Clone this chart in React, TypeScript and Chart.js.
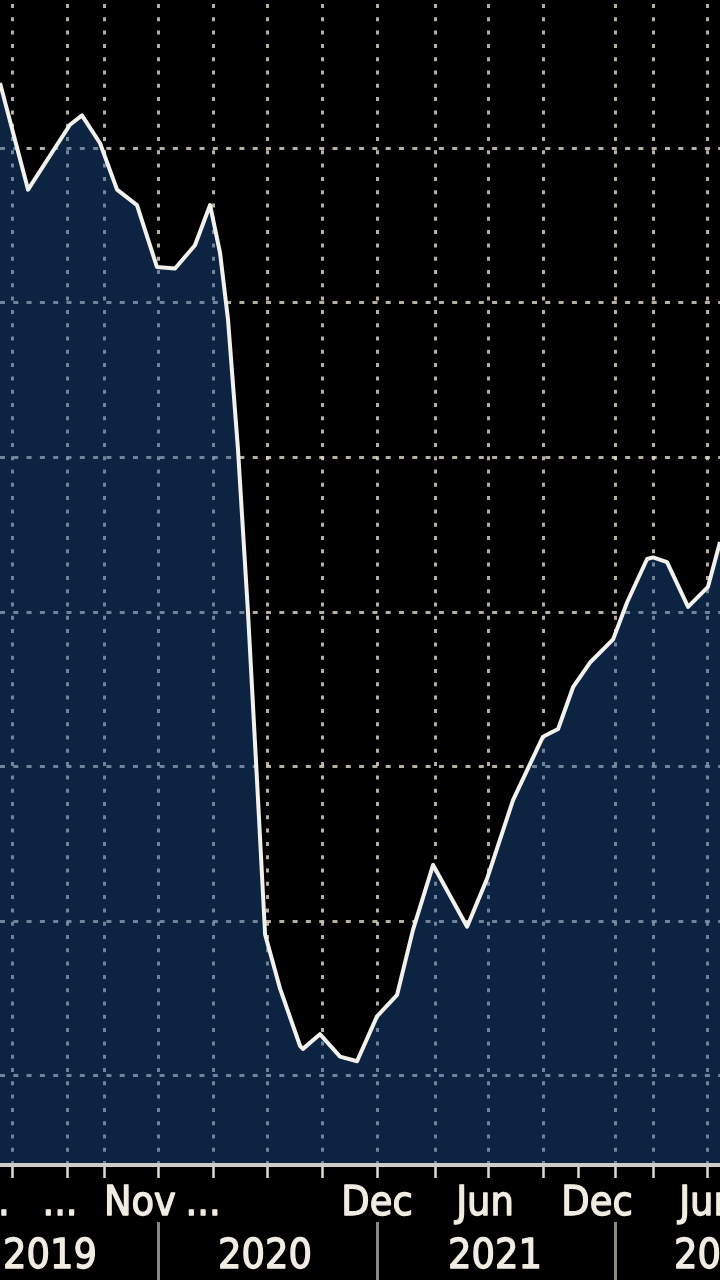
import React, { useEffect, useRef } from "react";
import { Chart, registerables } from "chart.js";

Chart.register(...registerables);

// Series (x in months from the left edge of the view, y in index points)
const seriesX = [0, 1.52, 3.79, 4.44, 5.42, 6.34, 7.42, 8.5, 9.48, 10.56, 11.38, 11.92, 12.35, 12.89, 13.43, 13.92, 14.36, 15.17, 16.25, 16.41, 17.33, 18.42, 19.34, 20.42, 21.51, 22.37, 23.46, 25.3, 26.38, 27.79, 29.41, 30.23, 31.04, 31.96, 33.21, 33.97, 35.05, 35.37, 36.13, 37.27, 38.35, 39.0, 39.5];
const seriesY = [84.2, 77.3, 81.5, 82.1, 80.3, 77.3, 76.3, 72.3, 72.2, 73.7, 76.3, 73.2, 68.9, 60.5, 50.0, 39.1, 29.1, 25.6, 21.9, 21.7, 22.65, 21.2, 20.9, 23.8, 25.2, 29.4, 33.6, 29.6, 32.7, 37.8, 41.9, 42.4, 45.1, 46.7, 48.2, 50.6, 53.4, 53.5, 53.2, 50.3, 51.6, 54.5, 57.2];

// Axis furniture
const gridX = [0.65, 3.63, 5.63, 8.56, 11.54, 14.46, 17.44, 20.42, 23.56, 26.43, 29.41, 33.31, 35.37, 38.3];
const tickOnlyX = [31.31];
const gridY = [20, 30, 40, 50, 60, 70, 80];
const monthLabels = ["...", "...", "Nov", "...", "Dec", "Jun", "Dec", "Jun"];
const monthLabelX = [-0.43, 3.25, 7.58, 11.0, 20.42, 26.27, 32.34, 38.35];
const yearLabels = ["2019", "2020", "2021", "2022"];
const yearLabelX = [2.71, 14.35, 26.81, 39.05];
const yearSeparatorX = [8.56, 20.42, 33.31];

const X_MIN = 0;
const X_MAX = 39;
const Y_MIN = 14.25;
const Y_MAX = 89.57;

const FONT = '41px "DejaVu Sans Condensed", "DejaVu Sans", sans-serif';

const bbgPlugin = {
  id: "bbgFurniture",
  beforeDatasetsDraw(chart: any) {
    const { ctx, chartArea: a, scales } = chart;
    const x = scales.x;
    const y = scales.y;
    ctx.save();
    ctx.strokeStyle = "rgba(220,214,198,0.82)";
    ctx.lineWidth = 3;
    ctx.lineCap = "butt";
    ctx.setLineDash([4, 9.3]);
    gridX.forEach((v) => {
      const px = Math.round(x.getPixelForValue(v)) + 0.5;
      ctx.beginPath();
      ctx.moveTo(px, a.top + 4);
      ctx.lineTo(px, a.bottom);
      ctx.stroke();
    });
    ctx.setLineDash([5, 8.3]);
    gridY.forEach((v) => {
      const py = Math.round(y.getPixelForValue(v)) + 0.5;
      ctx.beginPath();
      ctx.moveTo(a.left, py);
      ctx.lineTo(a.right, py);
      ctx.stroke();
    });
    ctx.restore();
  },
  afterDraw(chart: any) {
    const { ctx, chartArea: a, scales } = chart;
    const x = scales.x;
    const axisY = a.bottom + 1;
    ctx.save();
    // axis line
    ctx.strokeStyle = "#cfcdc8";
    ctx.lineWidth = 4;
    ctx.beginPath();
    ctx.moveTo(a.left, axisY);
    ctx.lineTo(a.right, axisY);
    ctx.stroke();
    // tick marks
    ctx.strokeStyle = "#dedbd3";
    ctx.lineWidth = 2.5;
    [...gridX, ...tickOnlyX].forEach((v) => {
      const px = Math.round(x.getPixelForValue(v)) + 0.5;
      ctx.beginPath();
      ctx.moveTo(px, axisY + 2);
      ctx.lineTo(px, axisY + 13);
      ctx.stroke();
    });
    // year separators
    ctx.strokeStyle = "#8c8780";
    ctx.lineWidth = 3;
    yearSeparatorX.forEach((v) => {
      const px = Math.round(x.getPixelForValue(v)) + 0.5;
      ctx.beginPath();
      ctx.moveTo(px, axisY + 57);
      ctx.lineTo(px, chart.height);
      ctx.stroke();
    });
    // labels
    ctx.fillStyle = "#f1ece2";
    ctx.strokeStyle = "#f1ece2";
    ctx.lineWidth = 1.3;
    ctx.lineJoin = "round";
    ctx.font = FONT;
    ctx.textAlign = "center";
    ctx.textBaseline = "alphabetic";
    monthLabels.forEach((t, i) => {
      const px = x.getPixelForValue(monthLabelX[i]);
      ctx.fillText(t, px, axisY + 50);
      ctx.strokeText(t, px, axisY + 50);
    });
    yearLabels.forEach((t, i) => {
      const px = x.getPixelForValue(yearLabelX[i]);
      ctx.fillText(t, px, axisY + 103);
      ctx.strokeText(t, px, axisY + 103);
    });
    ctx.restore();
  },
};

export default function App() {
  const ref = useRef<HTMLCanvasElement | null>(null);
  useEffect(() => {
    if (!ref.current) return;
    const points = seriesX.map((v, i) => ({ x: v, y: seriesY[i] }));
    const chart = new Chart(ref.current, {
      type: "line",
      data: {
        datasets: [
          {
            data: points,
            borderColor: "#f3f1ec",
            borderWidth: 4,
            backgroundColor: "rgba(27,78,145,0.45)",
            fill: "start",
            tension: 0,
            pointRadius: 0,
            borderJoinStyle: "round",
          } as any,
        ],
      },
      options: {
        animation: false,
        responsive: true,
        maintainAspectRatio: false,
        layout: { padding: { left: 0, right: 0, top: 0, bottom: 116 } },
        scales: {
          x: { type: "linear", display: false, min: X_MIN, max: X_MAX },
          y: { type: "linear", display: false, min: Y_MIN, max: Y_MAX },
        },
        plugins: { legend: { display: false }, tooltip: { enabled: false } },
      },
      plugins: [bbgPlugin],
    });
    return () => chart.destroy();
  }, []);
  return (
    <div style={{ position: "fixed", left: 0, top: 0, width: 720, height: 1280, background: "#000" }}>
      <canvas ref={ref} />
    </div>
  );
}
